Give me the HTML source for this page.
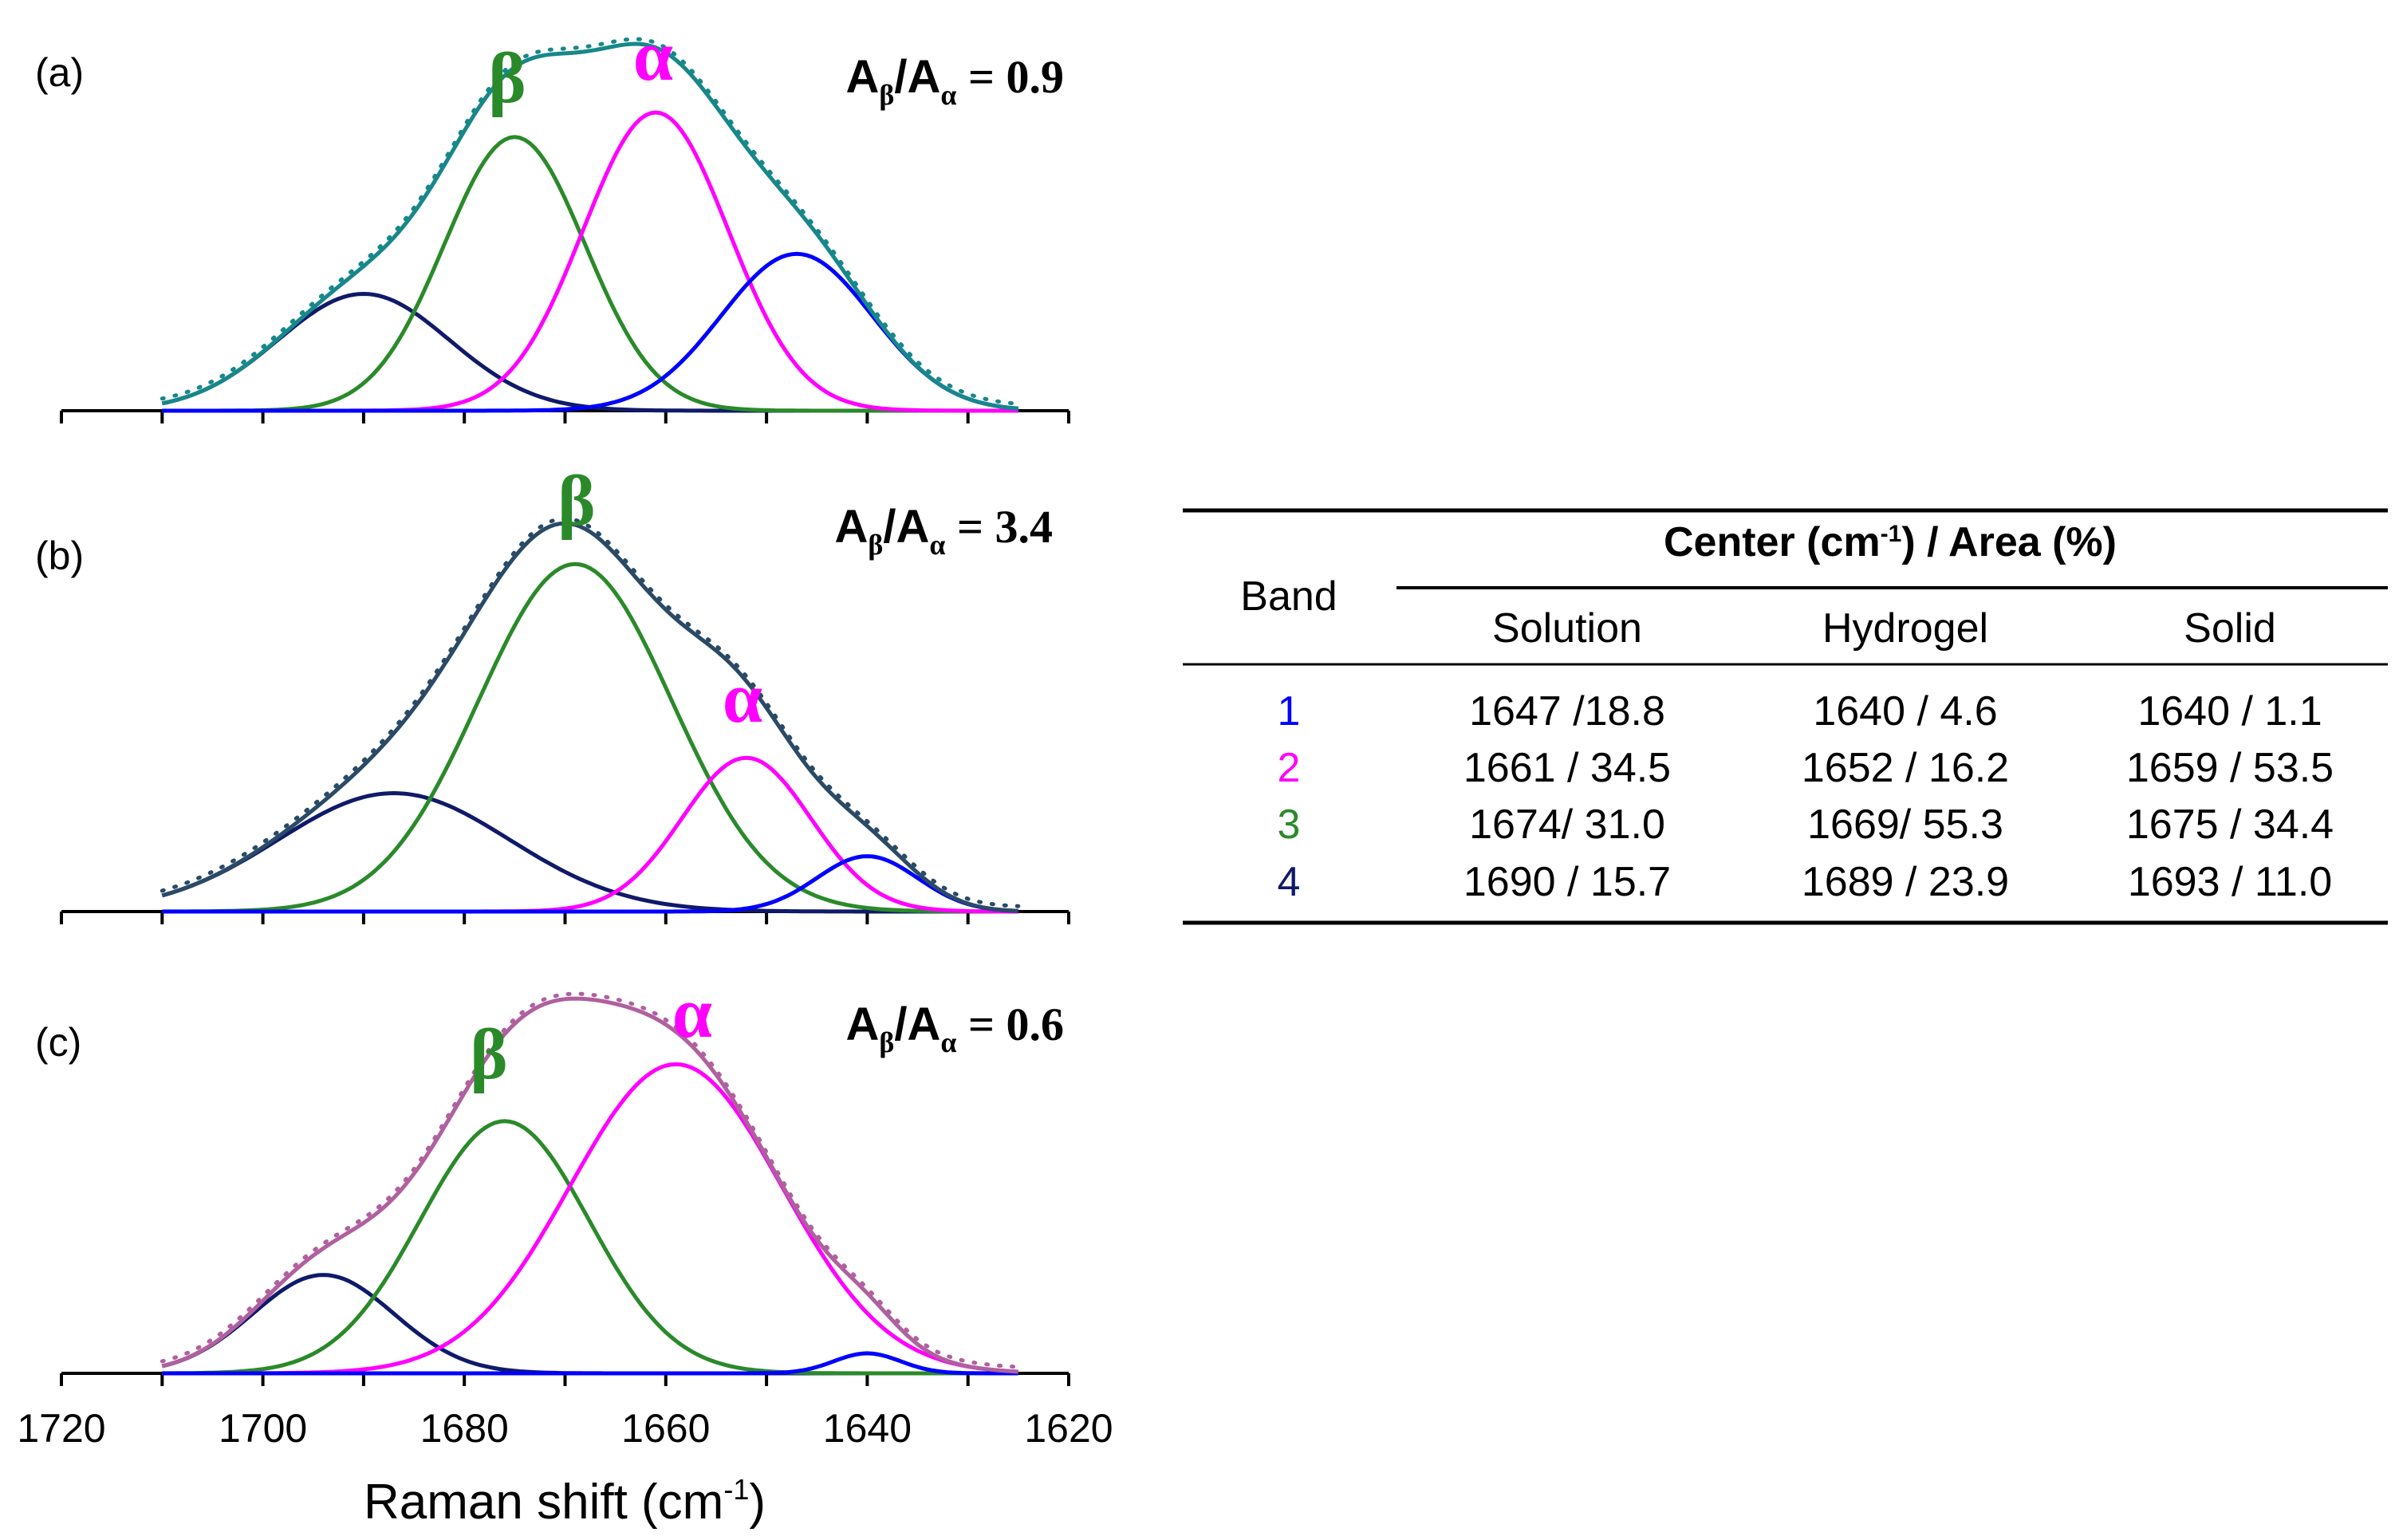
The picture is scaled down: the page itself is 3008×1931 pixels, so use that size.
<!DOCTYPE html>
<html><head><meta charset="utf-8"><style>
html,body{margin:0;padding:0;background:#fff}
svg{display:block}
text{font-family:"Liberation Sans",sans-serif}
</style></head><body>
<svg id="chart" width="3008" height="1931" viewBox="0 0 3008 1931" xmlns="http://www.w3.org/2000/svg">
<g id="plots"></g>
<g id="table">
 <line x1="1483" y1="640" x2="2994" y2="640" stroke="#000" stroke-width="5"/>
 <text x="2370" y="697" font-size="52" font-weight="bold" text-anchor="middle">Center (cm<tspan font-size="30" dy="-18">-1</tspan><tspan dy="18">) / Area (%)</tspan></text>
 <text x="1616" y="765" font-size="52" text-anchor="middle">Band</text>
 <line x1="1751" y1="737" x2="2994" y2="737" stroke="#000" stroke-width="4"/>
 <text x="1965" y="805" font-size="52" text-anchor="middle">Solution</text>
 <text x="2389" y="805" font-size="52" text-anchor="middle">Hydrogel</text>
 <text x="2796" y="805" font-size="52" text-anchor="middle">Solid</text>
 <line x1="1483" y1="833" x2="2994" y2="833" stroke="#000" stroke-width="3"/>
 <g font-size="52" text-anchor="middle">
  <text x="1616" y="909" fill="#0000ff">1</text>
  <text x="1965" y="909">1647 /18.8</text>
  <text x="2389" y="909">1640 / 4.6</text>
  <text x="2796" y="909">1640 / 1.1</text>
  <text x="1616" y="980" fill="#ff00ff">2</text>
  <text x="1965" y="980">1661 / 34.5</text>
  <text x="2389" y="980">1652 / 16.2</text>
  <text x="2796" y="980">1659 / 53.5</text>
  <text x="1616" y="1051" fill="#2a8a2a">3</text>
  <text x="1965" y="1051">1674/ 31.0</text>
  <text x="2389" y="1051">1669/ 55.3</text>
  <text x="2796" y="1051">1675 / 34.4</text>
  <text x="1616" y="1123" fill="#101a6a">4</text>
  <text x="1965" y="1123">1690 / 15.7</text>
  <text x="2389" y="1123">1689 / 23.9</text>
  <text x="2796" y="1123">1693 / 11.0</text>
 </g>
 <line x1="1483" y1="1157" x2="2994" y2="1157" stroke="#000" stroke-width="5"/>
</g>
</svg>
<script>
// data (peak heights in a.u., centres in cm-1, widths sigma in cm-1)
const panelLabels = ["(a)", "(b)", "(c)"];
const ratioLabels = ["0.9", "3.4", "0.6"];
const bandCenters = [[1647, 1661, 1675, 1690], [1640, 1652, 1669, 1687], [1640, 1659, 1676, 1694]];
const bandHeights = [[102, 194, 178, 76], [36, 100, 226, 77], [13, 201, 164, 64]];
const bandSigmas = [[7.5, 7.2, 7.0, 8.5], [5.0, 6.4, 9.6, 11.5], [3.3, 10.5, 8.4, 7.0]];
const xTicks = [1720, 1700, 1680, 1660, 1640, 1620];
const NS = "http://www.w3.org/2000/svg";
const bandColors = ["#0000ff", "#ff00ff", "#2a8a2a", "#101a6a"];
const sumColors = ["#17878a", "#2a4a66", "#b0609e"];
const baselines = [515, 1143, 1722];
const yScale = 1.928;
const xPx = v => 77 + (1720 - v) * (1340 - 77) / 100;
const g = document.getElementById('plots');
function mk(tag, attrs, parent) {
  const e = document.createElementNS(NS, tag);
  for (const k in attrs) e.setAttribute(k, attrs[k]);
  (parent || g).appendChild(e);
  return e;
}
function gauss(x, c, h, s) { return h * Math.exp(-0.5 * ((x - c) / s) ** 2); }
for (let p = 0; p < 3; p++) {
  const base = baselines[p];
  const yPx = v => base - v * yScale;
  const ax = mk('line', {x1: 77, y1: base, x2: 1340, y2: base, stroke: '#000', 'stroke-width': 4});
  
  
  for (let t = 1720; t >= 1620; t -= 10) {
    const tk = mk('line', {x1: xPx(t), y1: base, x2: xPx(t), y2: base + 16, stroke: '#000', 'stroke-width': 4});
    
    
  }
  let sumD = '';
  const bandDs = [[], [], [], []];
  for (let x = 1710; x >= 1625; x -= 0.5) {
    let s = 0;
    for (let b = 0; b < 4; b++) {
      const v = gauss(x, bandCenters[p][b], bandHeights[p][b], bandSigmas[p][b]);
      s += v;
      bandDs[b].push(xPx(x).toFixed(1) + ',' + yPx(v).toFixed(1));
    }
    sumD += (sumD ? 'L' : 'M') + xPx(x).toFixed(1) + ',' + yPx(s).toFixed(1);
  }
  const sd = mk('path', {d: sumD, fill: 'none', stroke: sumColors[p], 'stroke-width': 5, 'stroke-dasharray': '2 14', 'stroke-linecap': 'round', transform: 'translate(0,-6)'});
  
  
  for (let b = 3; b >= 0; b--) {
    const bp = mk('path', {d: 'M' + bandDs[b].join('L'), fill: 'none', stroke: bandColors[b], 'stroke-width': 5});
    
    
  }
  const sp = mk('path', {d: sumD, fill: 'none', stroke: sumColors[p], 'stroke-width': 5});
  
  
  const pl = mk('text', {x: 44, y: [108, 714, 1324][p], 'font-size': 50});
  pl.textContent = panelLabels[p];
  
  
  const rt = mk('text', {x: [1334, 1320, 1334][p], y: [116, 680, 1304][p], 'font-size': 58, 'font-weight': 'bold', 'text-anchor': 'end', style: 'font-family:"Liberation Serif",serif'});
  rt.innerHTML = '<tspan style="font-family:\'Liberation Sans\',sans-serif">A</tspan><tspan font-size="36" dy="15">β</tspan><tspan dy="-15" style="font-family:\'Liberation Sans\',sans-serif">/A</tspan><tspan font-size="36" dy="15">α</tspan><tspan dy="-15"> = ' + ratioLabels[p] + '</tspan>';
  
  
}
const greek = [["β", 636, 128, "#2a8a2a"], ["α", 819, 100, "#ff00ff"], ["β", 723, 658, "#2a8a2a"], ["α", 931, 905, "#ff00ff"], ["β", 613, 1352, "#2a8a2a"], ["α", 868, 1300, "#ff00ff"]];
for (const gl of greek) {
  const t = mk('text', {x: gl[1], y: gl[2], 'font-size': 90, 'font-weight': 'bold', fill: gl[3], 'text-anchor': 'middle', style: 'font-family:"Liberation Serif",serif'});
  t.textContent = gl[0];
  
  
}
for (const t of xTicks) {
  const tl = mk('text', {x: xPx(t), y: 1808, 'font-size': 50, 'text-anchor': 'middle'});
  tl.textContent = t;
  
  
}
const xt = mk('text', {x: 708, y: 1904, 'font-size': 62, 'text-anchor': 'middle'});
xt.innerHTML = 'Raman shift (cm<tspan font-size="36" dy="-24">-1</tspan><tspan dy="24">)</tspan>';


</script>
</body></html>
